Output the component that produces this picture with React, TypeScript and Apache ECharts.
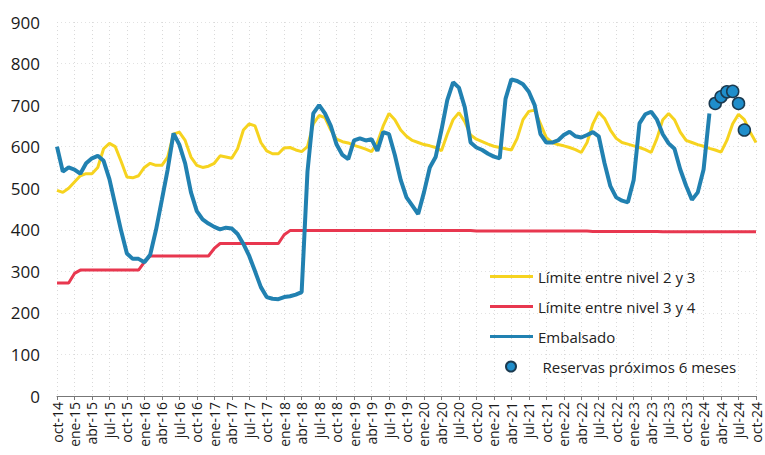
import React, { useEffect, useRef } from "react";
import * as echarts from "echarts";

const MONTH_NAMES = ["ene", "feb", "mar", "abr", "may", "jun", "jul", "ago", "sep", "oct", "nov", "dic"];
const START_YEAR = 2014;
const START_MONTH = 9; // oct
const N_MONTHS = 121; // oct-14 .. oct-24

const CATEGORIES: string[] = [];
for (let i = 0; i < N_MONTHS; i++) {
  const m = (START_MONTH + i) % 12;
  const y = START_YEAR + Math.floor((START_MONTH + i) / 12);
  CATEGORIES.push(`${MONTH_NAMES[m]}-${String(y).slice(2)}`);
}

const Y_TICKS = [0, 100, 200, 300, 400, 500, 600, 700, 800, 900];

// Límite entre nivel 2 y 3 (monthly, oct-14 .. oct-24)
const LIMITE_2_3 = [
  495, 490, 500, 515, 530, 535, 535, 550, 595, 608, 600, 565,
  527, 525, 530, 550, 560, 555, 555, 575, 630, 635, 615, 575,
  555, 550, 553, 560, 578, 575, 572, 595, 640, 655, 650, 610,
  590, 583, 583, 597, 598, 592, 588, 600, 655, 675, 670, 640,
  618, 612, 609, 603, 599, 594, 588, 610, 650, 680, 665, 640,
  625, 615, 610, 605, 602, 598, 590, 630, 665, 682, 660, 628,
  618, 612, 606, 601, 598, 595, 592, 620, 665, 685, 688, 655,
  622, 610, 605, 602, 598, 593, 586, 610, 655, 683, 668, 640,
  620, 610, 606, 602, 598, 593, 586, 620, 665, 680, 665, 635,
  615, 610, 605, 601, 596, 592, 587, 615, 655, 678, 665, 635,
  610,
];

// Límite entre nivel 3 y 4
const LIMITE_3_4 = [
  272, 272, 272, 295, 303, 303, 303, 303, 303, 303, 303, 303,
  303, 303, 303, 322, 337, 337, 337, 337, 337, 337, 337, 337,
  337, 337, 337, 355, 367, 367, 367, 367, 367, 367, 367, 367,
  367, 367, 367, 388, 398, 398, 398, 398, 398, 398, 398, 398,
  398, 398, 398, 398, 398, 398, 398, 398, 398, 398, 398, 398,
  398, 398, 398, 398, 398, 398, 398, 398, 398, 398, 398, 398,
  397, 397, 397, 397, 397, 397, 397, 397, 397, 397, 397, 397,
  397, 397, 397, 397, 397, 397, 397, 397, 396, 396, 396, 396,
  396, 396, 396, 396, 396, 396, 396, 396, 395, 395, 395, 395,
  395, 395, 395, 395, 395, 395, 395, 395, 395, 395, 395, 395,
  395,
];

// Embalsado (oct-14 .. feb-24)
const EMBALSADO = [
  600, 540, 550, 545, 535, 560, 572, 578, 566, 522, 460, 398,
  343, 330, 330, 322, 340, 400, 472, 545, 632, 605, 560, 490,
  445, 425, 415, 407, 401, 405, 403, 390, 366, 337, 300, 262,
  238, 234, 233, 238, 240, 244, 250, 540, 680, 700, 680, 650,
  605, 580, 570, 615, 620, 615, 618, 590, 635, 630, 580, 520,
  478, 458, 438, 490, 550, 575, 640, 712, 755, 742, 695, 610,
  598, 592, 583, 576, 572, 715, 762, 758, 750, 732, 700, 630,
  610, 610, 615, 628, 636, 625, 622, 628, 635, 625, 560, 505,
  478, 470, 466, 520, 656, 678, 684, 665, 630, 608, 595, 545,
  506, 472, 490, 545, 680,
];

// Reservas próximos 6 meses (mar-24 .. ago-24)
const RESERVAS_START = 113;
const RESERVAS = [704, 720, 732, 733, 704, 640];

const FONT = "'Open Sans', 'Noto Sans', sans-serif";

export default function App() {
  const ref = useRef<HTMLDivElement>(null);

  useEffect(() => {
    if (!ref.current) return;
    const chart = echarts.init(ref.current, null, { renderer: "svg" });

    const option: any = {
      animation: false,
      backgroundColor: "#ffffff",
      textStyle: { fontFamily: FONT },
      grid: { left: 57, right: 9, top: 22, bottom: 59, containLabel: false },
      legend: [
        {
          data: ["Límite entre nivel 2 y 3", "Límite entre nivel 3 y 4", "Embalsado"],
          orient: "vertical",
          left: 485,
          top: 264,
          icon: "rect",
          itemWidth: 43,
          itemHeight: 3,
          itemGap: 15,
          textStyle: { fontSize: 15, color: "#222", fontFamily: FONT },
        },
        {
          data: ["Reservas próximos 6 meses"],
          orient: "vertical",
          left: 500,
          top: 354,
          icon: "circle",
          itemWidth: 43,
          itemHeight: 10,
          textStyle: { fontSize: 15, color: "#222", fontFamily: FONT, padding: [0, 0, 0, 5] },
        },
      ],
      xAxis: {
        type: "category",
        data: CATEGORIES,
        boundaryGap: false,
        axisLine: { show: true, lineStyle: { color: "#777", width: 1 } },
        axisTick: { show: true, interval: 2, length: 4, lineStyle: { color: "#777" } },
        axisLabel: {
          interval: 2,
          rotate: 90,
          fontSize: 14,
          color: "#1a1a1a",
          margin: 6,
          fontFamily: FONT,
        },
        splitLine: {
          show: true,
          interval: 2,
          lineStyle: { color: "#d9d9d9", type: [1, 3], width: 1 },
        },
      },
      yAxis: {
        type: "value",
        min: Y_TICKS[0],
        max: Y_TICKS[Y_TICKS.length - 1],
        interval: 100,
        axisLine: { show: false },
        axisTick: { show: false },
        axisLabel: { fontSize: 17, color: "#1a1a1a", margin: 17, fontFamily: FONT },
        splitLine: { show: true, lineStyle: { color: "#e2e2e2", type: [1, 3], width: 1 } },
      },
      series: [
        {
          name: "Límite entre nivel 2 y 3",
          type: "line",
          data: LIMITE_2_3,
          symbol: "none",
          color: "#f6d31f",
          lineStyle: { color: "#f6d31f", width: 3 },
          z: 2,
        },
        {
          name: "Límite entre nivel 3 y 4",
          type: "line",
          data: LIMITE_3_4,
          symbol: "none",
          color: "#e8374f",
          lineStyle: { color: "#e8374f", width: 3 },
          z: 2,
        },
        {
          name: "Embalsado",
          type: "line",
          data: EMBALSADO,
          symbol: "none",
          color: "#2181b1",
          lineStyle: { color: "#2181b1", width: 4 },
          z: 3,
        },
        {
          name: "Reservas próximos 6 meses",
          type: "scatter",
          data: RESERVAS.map((v, k) => [RESERVAS_START + k, v]),
          symbol: "circle",
          symbolSize: 12,
          itemStyle: { color: "#1f8ecb", borderColor: "#1b3a50", borderWidth: 1.5, opacity: 1 },
          z: 4,
        },
      ],
    };

    chart.setOption(option);
    return () => chart.dispose();
  }, []);

  return (
    <div
      ref={ref}
      style={{ position: "fixed", left: 0, top: 0, width: 765, height: 455 }}
    />
  );
}
